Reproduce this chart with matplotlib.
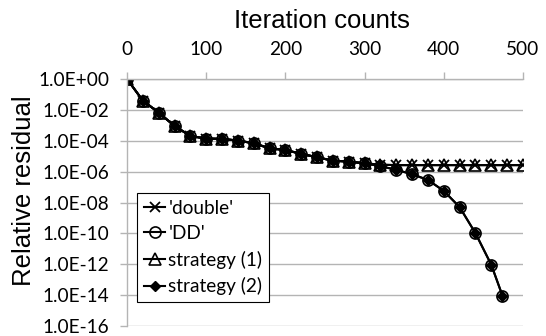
import matplotlib
matplotlib.use("Agg")
import matplotlib.pyplot as plt
import numpy as np
from matplotlib.ticker import FixedLocator, FuncFormatter, NullLocator

# iteration counts (every 20 iterations)
iters_full = list(range(0, 501, 20))
iters_conv = list(range(0, 461, 20)) + [474]

# log10 of the relative residual
log_double = [0.0, -1.40, -2.18, -3.04, -3.69, -3.86, -3.88, -3.99, -4.16, -4.49,
              -4.60, -4.85, -5.07, -5.29, -5.35, -5.46, -5.55, -5.58, -5.58, -5.58,
              -5.58, -5.58, -5.58, -5.58, -5.58, -5.58]
log_strategy1 = list(log_double)
log_dd = [0.0, -1.40, -2.18, -3.04, -3.69, -3.86, -3.88, -3.99, -4.16, -4.49,
          -4.60, -4.85, -5.07, -5.29, -5.35, -5.46, -5.65, -5.88, -6.17, -6.54,
          -7.25, -8.30, -9.99, -12.04, -14.03]
log_strategy2 = list(log_dd)

y_ticks = [10.0 ** e for e in range(-16, 1, 2)]
x_ticks = [0, 100, 200, 300, 400, 500]

TICK_FONT = "Lato"
TITLE_FONT = "Liberation Sans"
GRID = "#b4b4b4"
FS_TICK = 13.7
FS_TITLE = 18.5

fig = plt.figure(figsize=(5.46, 3.36), dpi=100)
ax = fig.add_axes([127 / 546, 10 / 336, 396 / 546, 247 / 336])

series = [
    (iters_full, log_double, "'double'", dict(marker="x", ms=7, mew=1.3, mfc="none")),
    (iters_conv, log_dd, "'DD'", dict(marker="o", ms=8, mew=1.2, mfc="none")),
    (iters_full, log_strategy1, "strategy (1)", dict(marker="^", ms=8, mew=1.2, mfc="none")),
    (iters_conv, log_strategy2, "strategy (2)", dict(marker="D", ms=5, mew=1.0, mfc="black")),
]
for xs, ys, label, style in series:
    ax.plot(xs, 10.0 ** np.array(ys), color="black", lw=1.5, mec="black",
            label=label, **style)

ax.set_yscale("log")
ax.set_ylim(1e-16, 1.0)
ax.set_xlim(0, 500)
ax.yaxis.set_major_locator(FixedLocator(y_ticks))
ax.yaxis.set_minor_locator(NullLocator())
ax.yaxis.set_major_formatter(FuncFormatter(lambda v, p: f"{v:.1E}"))
ax.set_xticks(x_ticks)
ax.xaxis.tick_top()

ax.grid(axis="y", color=GRID, lw=1.0)
ax.set_axisbelow(True)
for side in ["right", "bottom"]:
    ax.spines[side].set_visible(False)
for side in ["left", "top"]:
    ax.spines[side].set_color(GRID)
    ax.spines[side].set_linewidth(1.0)
ax.tick_params(axis="both", direction="out", length=5, width=1.0, color=GRID,
               labelsize=FS_TICK, labelcolor="black")
ax.tick_params(axis="y", pad=8)
ax.tick_params(axis="x", pad=10)
for lbl in ax.get_xticklabels() + ax.get_yticklabels():
    lbl.set_family(TICK_FONT)

# axis titles (Excel-style placement)
fig.text(322 / 546, 1 - 28 / 336, "Iteration counts", fontsize=FS_TITLE,
         family=TITLE_FONT, ha="center", va="baseline")
fig.text(24 / 546, 1 - 191 / 336, "Relative residual", rotation=90, fontsize=FS_TITLE,
         family=TITLE_FONT, ha="center", va="center")

leg = ax.legend(loc="lower left", bbox_to_anchor=(0.025, 0.097), borderaxespad=0,
                prop={"family": TICK_FONT, "size": FS_TICK}, fancybox=False,
                framealpha=1, edgecolor="black", handlelength=1.15,
                handletextpad=0.15, labelspacing=0.45, borderpad=0.35)
leg.get_frame().set_linewidth(0.8)

fig.savefig("out.png", dpi=100)
